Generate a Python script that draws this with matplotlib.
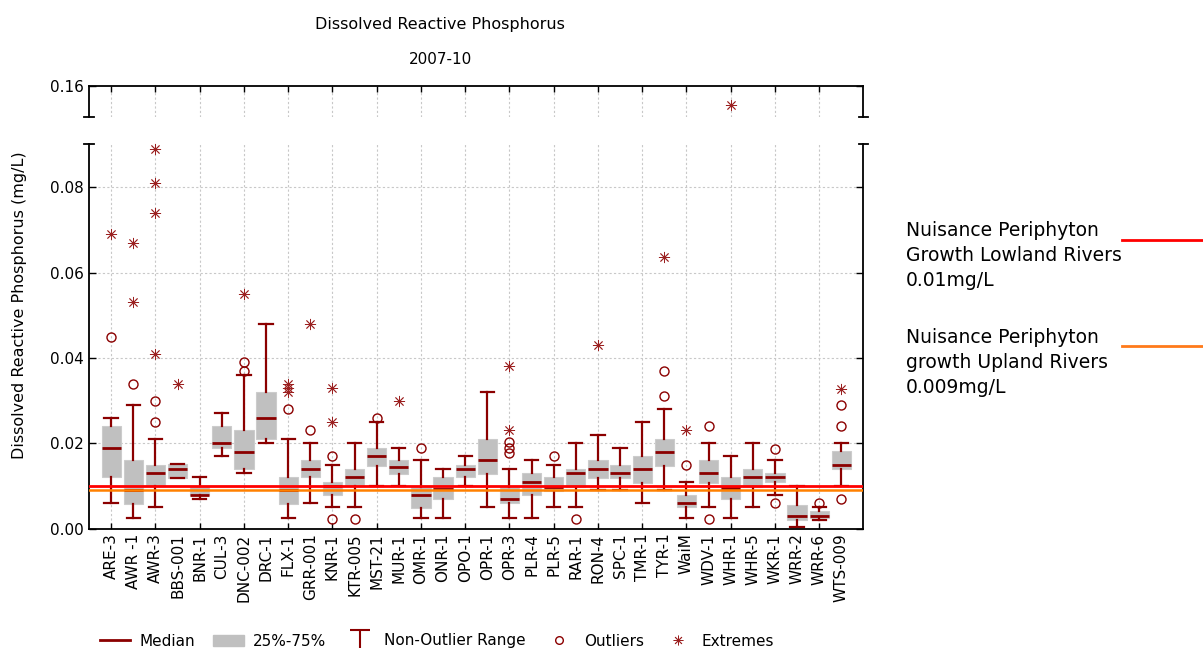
import matplotlib
matplotlib.use('Agg')
import matplotlib.pyplot as plt
from matplotlib.lines import Line2D
from matplotlib.patches import Patch
from matplotlib.path import Path

plt.rcParams['font.family'] = ['DejaVu Sans']

sites = ['ARE-3', 'AWR -1', 'AWR-3', 'BBS-001', 'BNR-1', 'CUL-3', 'DNC-002', 'DRC-1',
         'FLX-1', 'GRR-001', 'KNR-1', 'KTR-005', 'MST-21', 'MUR-1', 'OMR-1', 'ONR-1',
         'OPO-1', 'OPR-1', 'OPR-3', 'PLR-4', 'PLR-5', 'RAR-1', 'RON-4', 'SPC-1',
         'TMR-1', 'TYR-1', 'WaiM', 'WDV-1', 'WHR-1', 'WHR-5', 'WKR-1', 'WRR-2',
         'WRR-6', 'WTS-009']
whislo = [0.006, 0.0025, 0.005, 0.0118, 0.007, 0.017, 0.013, 0.020,
          0.0025, 0.006, 0.005, 0.005, 0.010, 0.010, 0.0025, 0.0025,
          0.010, 0.005, 0.0025, 0.0025, 0.005, 0.005, 0.009, 0.009,
          0.006, 0.009, 0.0025, 0.005, 0.0025, 0.005, 0.008, 0.0003,
          0.002, 0.010]
q1 = [0.012, 0.0058, 0.010, 0.0118, 0.0078, 0.0188, 0.014, 0.021,
      0.0058, 0.012, 0.0078, 0.010, 0.0148, 0.0128, 0.0049, 0.0069,
      0.012, 0.0128, 0.006, 0.0078, 0.0089, 0.0098, 0.0118, 0.0118,
      0.0108, 0.0148, 0.005, 0.0108, 0.0069, 0.0098, 0.011, 0.002,
      0.0026, 0.0139]
med = [0.019, 0.009, 0.013, 0.014, 0.008, 0.020, 0.018, 0.026,
       0.009, 0.014, 0.010, 0.012, 0.017, 0.0145, 0.008, 0.0093,
       0.014, 0.016, 0.007, 0.011, 0.0098, 0.013, 0.014, 0.013,
       0.014, 0.018, 0.006, 0.013, 0.0095, 0.012, 0.012, 0.003,
       0.003, 0.015]
q3 = [0.024, 0.016, 0.015, 0.0152, 0.010, 0.024, 0.023, 0.032,
      0.012, 0.016, 0.011, 0.014, 0.019, 0.016, 0.0098, 0.012,
      0.015, 0.021, 0.0098, 0.013, 0.012, 0.014, 0.016, 0.015,
      0.017, 0.021, 0.008, 0.016, 0.012, 0.014, 0.0131, 0.0056,
      0.0041, 0.0181]
whishi = [0.026, 0.029, 0.021, 0.0152, 0.012, 0.027, 0.036, 0.048,
          0.021, 0.020, 0.015, 0.020, 0.025, 0.019, 0.016, 0.014,
          0.017, 0.032, 0.014, 0.016, 0.015, 0.020, 0.022, 0.019,
          0.025, 0.028, 0.011, 0.020, 0.017, 0.020, 0.016, 0.010,
          0.005, 0.020]
outliers = [[0.045], [0.034], [0.030, 0.025], [], [], [], [0.039, 0.037], [],
            [0.028], [0.023], [0.017, 0.0023], [0.0023], [0.026], [], [0.019], [],
            [], [], [0.0203, 0.019, 0.0178], [], [0.017], [0.0023], [], [],
            [], [0.031, 0.037], [0.015], [0.024, 0.0023], [], [], [0.0187, 0.0061], [],
            [0.006], [0.029, 0.024, 0.007]]
extremes = [[0.069], [0.067, 0.053], [0.089, 0.081, 0.074, 0.041], [0.034], [], [], [0.055], [],
            [0.034, 0.033, 0.032], [0.048], [0.033, 0.025], [], [], [0.030], [], [],
            [], [], [0.023, 0.038], [], [], [], [0.043], [],
            [], [0.0636], [0.023], [], [0.1556], [], [], [],
            [], [0.0326]]

lowland = 0.01
upland = 0.009

dred = '#8b0000'
grey = '#c0c0c0'
gridc = '#c8c8c8'

W, H = 1203, 648
fig = plt.figure(figsize=(W / 100, H / 100), dpi=100)
ax = fig.add_axes([89 / W, 1 - 528.7 / H, 774.5 / W, 384.3 / H])
axu = fig.add_axes([89 / W, 1 - 117 / H, 774.5 / W, 31 / H])

pos = list(range(1, len(sites) + 1))
stats = []
for i in range(len(sites)):
    stats.append(dict(med=med[i], q1=q1[i], q3=q3[i], whislo=whislo[i],
                      whishi=whishi[i], fliers=[]))
ax.bxp(stats, positions=pos, widths=0.87, capwidths=0.6, patch_artist=True,
       showfliers=False,
       boxprops=dict(facecolor=grey, edgecolor='#cccccc', linewidth=0.8),
       medianprops=dict(color=dred, linewidth=2),
       whiskerprops=dict(color=dred, linewidth=1.6),
       capprops=dict(color=dred, linewidth=1.6))

for i, p in enumerate(pos):
    for v in outliers[i]:
        ax.plot(p, v, 'o', mfc='none', mec=dred, mew=1.0, ms=6.5, clip_on=False, zorder=4)
    for v in extremes[i]:
        target = ax if v < 0.09 else axu
        target.plot(p, v, marker=(8, 2, 0), color='#9b2020', mew=0.6, ms=8,
                    linestyle='None', clip_on=False, zorder=4)

ax.axhline(lowland, color='#ff0000', lw=2, zorder=5)
ax.axhline(upland, color='#ff8000', lw=1.8, zorder=5)

for a in (ax, axu):
    a.set_xlim(0, 35)
    odd = pos[0::2]
    even = pos[1::2]
    a.set_xticks(odd)
    a.set_xticks(even, minor=True)
    a.grid(True, which='major', axis='x', color=gridc, linestyle=(0, (2, 2)), linewidth=0.8)
    a.tick_params(axis='y', direction='in', length=5, width=1, right=True, labelsize=11)
    a.tick_params(axis='x', which='major', direction='in', length=4, width=1)
    a.tick_params(axis='x', which='minor', length=0)
    for s in a.spines.values():
        s.set_linewidth(1.3)
    a.set_axisbelow(True)

ax.set_ylim(0, 0.09)
ax.set_yticks([0.0, 0.02, 0.04, 0.06, 0.08])
ax.set_yticklabels(['0.00', '0.02', '0.04', '0.06', '0.08'])
ax.grid(True, axis='y', color=gridc, linestyle=(0, (2, 2)), linewidth=0.8)
ax.set_xticklabels(sites[0::2], rotation=90, fontsize=11)
ax.set_xticklabels(sites[1::2], rotation=90, fontsize=11, minor=True)
ax.spines['top'].set_visible(False)

axu.set_ylim(0.1527, 0.16)
axu.set_yticks([0.16])
axu.set_yticklabels(['0.16'])
axu.tick_params(axis='x', which='both', bottom=False, top=True, labelbottom=False)
axu.spines['bottom'].set_visible(False)

# break markers
for a, yy in ((ax, 1), (axu, 0)):
    for xx in (0, 1):
        a.plot([xx - 0.006, xx + 0.006], [yy, yy], color='black', lw=1.3,
               transform=a.transAxes, clip_on=False)

fig.text(440 / W, 1 - 25 / H, 'Dissolved Reactive Phosphorus', ha='center', va='center', fontsize=11.5)
fig.text(440 / W, 1 - 60 / H, '2007-10', ha='center', va='center', fontsize=11)
fig.text(20 / W, 1 - 305 / H, 'Dissolved Reactive Phosphorus (mg/L)', rotation=90,
         ha='center', va='center', fontsize=11.5)

# threshold key on the right
key1 = ['Nuisance Periphyton', 'Growth Lowland Rivers', '0.01mg/L']
key2 = ['Nuisance Periphyton', 'growth Upland Rivers', '0.009mg/L']
for j, t in enumerate(key1):
    fig.text(906 / W, 1 - (236 + 25 * j) / H, t, fontsize=13.5, va='baseline')
for j, t in enumerate(key2):
    fig.text(906 / W, 1 - (342.7 + 25 * j) / H, t, fontsize=13.5, va='baseline')
fig.add_artist(Line2D([1122 / W, 1.0], [1 - 240 / H] * 2, color='#ff0000', lw=2,
                      transform=fig.transFigure))
fig.add_artist(Line2D([1122 / W, 1.0], [1 - 346 / H] * 2, color='#ff7a1a', lw=2,
                      transform=fig.transFigure))

tee = Path([(-1, 1), (1, 1), (0, 1), (0, -1)],
           [Path.MOVETO, Path.LINETO, Path.MOVETO, Path.LINETO])
handles = [Line2D([], [], color=dred, lw=2),
           Patch(facecolor=grey, edgecolor=grey),
           Line2D([], [], color=dred, marker=tee, ms=14, mew=1.5, linestyle='None'),
           Line2D([], [], color=dred, marker='o', mfc='none', ms=5.5, mew=1, linestyle='None'),
           Line2D([], [], color='#9b2020', marker=(8, 2, 0), ms=7, mew=0.6, linestyle='None')]
labels = ['Median', '25%-75%', 'Non-Outlier Range', 'Outliers', 'Extremes']
fig.legend(handles, labels, loc='center', bbox_to_anchor=(437 / W, 1 - 641 / H), ncol=5,
           frameon=False, fontsize=11, handlelength=2.0, columnspacing=1.2,
           handletextpad=0.6, borderaxespad=0)

fig.savefig('out.png', dpi=100)
